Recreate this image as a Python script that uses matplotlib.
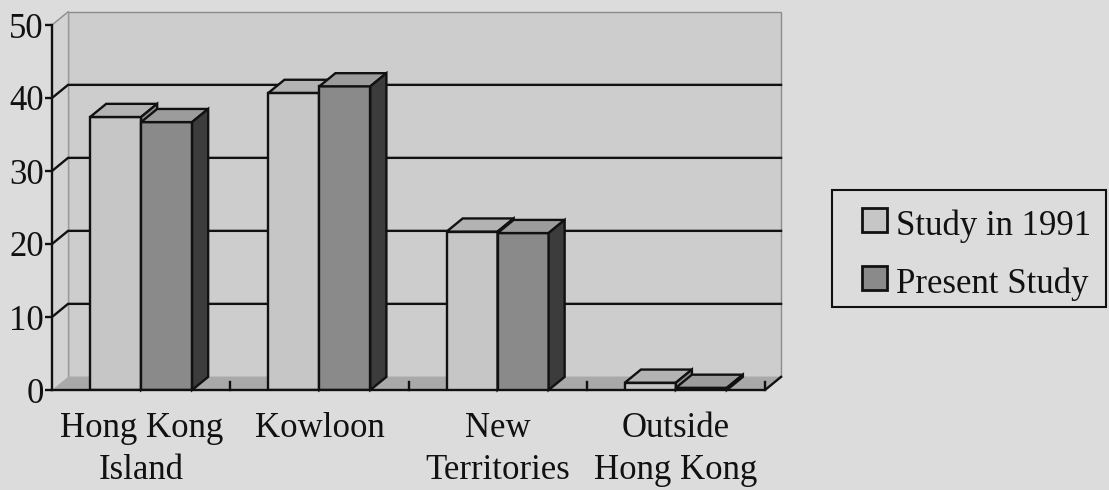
import matplotlib
matplotlib.use("Agg")
import matplotlib.pyplot as plt
from matplotlib.patches import Polygon, Rectangle

plt.rcParams['font.family'] = ['Liberation Serif', 'DejaVu Serif']

# ---- data -------------------------------------------------------------
categories = ["Hong Kong\nIsland", "Kowloon", "New\nTerritories", "Outside\nHong Kong"]
study_1991 = [37.4, 40.7, 21.7, 1.0]
present_study = [36.7, 41.6, 21.5, 0.3]
series_names = ["Study in 1991", "Present Study"]
y_ticks = [0, 10, 20, 30, 40, 50]

# ---- styling ----------------------------------------------------------
BG = "#dcdcdc"
WALL = "#cdcdcd"
FLOOR = "#a9a9a9"
INK = "#111111"
# (front, top, side) shades for each series
SHADES = [("#c6c6c6", "#b3b3b3", "#8f8f8f"),
          ("#8a8a8a", "#9c9c9c", "#3c3c3c")]

W, H = 1109, 490
DX, DY = 0.09, 1.8      # oblique depth offset (data units)
BAR_W = 0.286
LW = 1.7
FS = 25

fig = plt.figure(figsize=(W / 100, H / 100), dpi=100, facecolor=BG)
ax = fig.add_axes([52 / W, 100 / H, 713 / W, 365 / H])
ax.set_xlim(0, len(categories))
ax.set_ylim(0, 50)
ax.set_facecolor("none")
for s in ("top", "right", "bottom"):
    ax.spines[s].set_visible(False)
ax.spines["left"].set_color(INK)
ax.spines["left"].set_linewidth(LW)
ax.spines["left"].set_zorder(6)

n = len(categories)

# back wall, side wall and floor
ax.add_patch(Rectangle((DX, DY), n, 50, fc=WALL, ec="#8c8c8c", lw=1.0,
                       clip_on=False, zorder=0))
ax.add_patch(Polygon([(0, 0), (DX, DY), (DX, 50 + DY), (0, 50)], closed=True,
                     fc="#d3d3d3", ec="none", clip_on=False, zorder=0.2))
ax.plot([0, DX], [50, 50 + DY], color="#8c8c8c", lw=1.0, clip_on=False, zorder=0.3)
ax.plot([DX, DX], [DY, 50 + DY], color="#9a9a9a", lw=1.0, clip_on=False, zorder=0.3)
ax.add_patch(Polygon([(0, 0), (n, 0), (n + DX, DY), (DX, DY)], closed=True,
                     fc=FLOOR, ec="none", clip_on=False, zorder=0.5))

# gridlines on side and back walls
for v in y_ticks[1:-1]:
    ax.plot([0, DX, n + DX], [v, v + DY, v + DY], color=INK, lw=LW,
            clip_on=False, zorder=1, solid_joinstyle="miter")

# front floor edge and category separators
ax.plot([0, n, n + DX], [0, 0, DY], color=INK, lw=LW, clip_on=False, zorder=5)
for k in range(1, n + 1):
    ax.plot([k, k], [0, 1.1], color=INK, lw=LW, clip_on=False, zorder=0.8)

# 3-D looking columns
for i in range(n):
    c = i + 0.5
    for j, vals in enumerate((study_1991, present_study)):
        v = vals[i]
        x0 = c - BAR_W + j * BAR_W
        front, top, side = SHADES[j]
        z = 2 + 2 * i + j * 0.5
        ax.bar(x0, v, width=BAR_W, align="edge", color=front, ec=INK,
               lw=LW, zorder=z)
        ax.add_patch(Polygon([(x0, v), (x0 + BAR_W, v),
                              (x0 + BAR_W + DX, v + DY), (x0 + DX, v + DY)],
                             closed=True, fc=top, ec=INK, lw=LW,
                             joinstyle="miter", clip_on=False, zorder=z))
        ax.add_patch(Polygon([(x0 + BAR_W, 0), (x0 + BAR_W + DX, DY),
                              (x0 + BAR_W + DX, v + DY), (x0 + BAR_W, v)],
                             closed=True, fc=side, ec=INK, lw=LW,
                             joinstyle="miter", clip_on=False, zorder=z))

# axes ticks and labels
ax.set_yticks(y_ticks)
ax.set_yticklabels([str(t) for t in y_ticks])
ax.tick_params(axis="y", direction="out", length=5, width=LW, color=INK,
               pad=1, labelsize=FS, labelcolor=INK)
ax.set_xticks([i + 0.5 for i in range(n)])
ax.set_xticklabels(categories, linespacing=1.35)
ax.tick_params(axis="x", length=0, pad=16, labelsize=FS, labelcolor=INK)

# legend box
def fx(px):
    return px / W

def fy(py):
    return 1 - py / H

fig.add_artist(Rectangle((fx(832), fy(307)), fx(1106) - fx(832), fy(190) - fy(307),
                         transform=fig.transFigure, fc="none", ec=INK, lw=1.5))
for k, name in enumerate(series_names):
    yc = 220 + 58 * k
    fig.add_artist(Rectangle((fx(862), fy(yc + 12)), fx(887) - fx(862),
                             fy(yc - 12) - fy(yc + 12),
                             transform=fig.transFigure, fc=SHADES[k][0],
                             ec=INK, lw=2.0))
    fig.text(fx(896), fy(yc + 15), name, fontsize=FS, color=INK,
             ha="left", va="baseline")

fig.savefig("out.png", dpi=100, facecolor=BG)
